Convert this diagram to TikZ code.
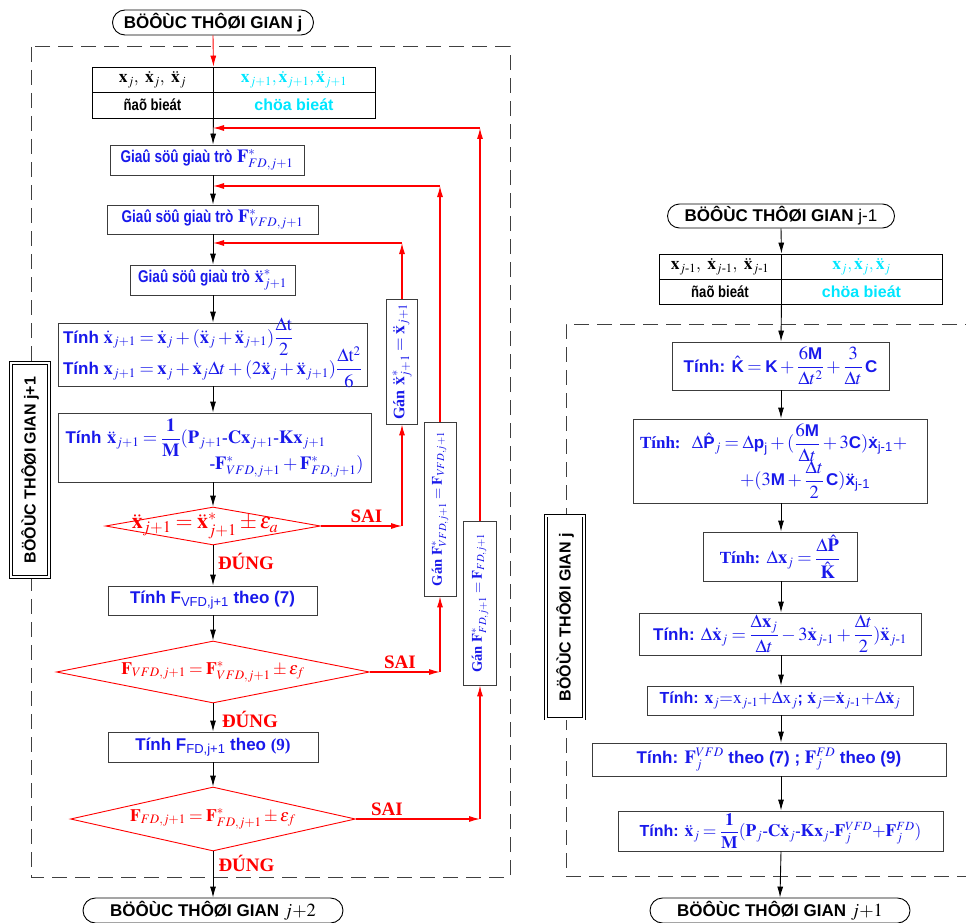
\documentclass[tikz,border=0pt]{standalone}
\usepackage{amsmath}
\usepackage{mathptmx}
\usepackage[no-math]{fontspec}
\setmainfont{Liberation Sans}
\newfontfamily\serifb{Liberation Serif}
\usetikzlibrary{arrows.meta,shapes.geometric,shapes.misc}
\definecolor{vblue}{RGB}{25,25,235}
\definecolor{vcyan}{RGB}{0,230,255}
\definecolor{vred}{RGB}{255,0,0}
\definecolor{bgray}{RGB}{60,60,60}
\DeclareMathSizes{17}{18.5}{13}{10}
\DeclareMathSizes{16}{17.5}{12.5}{9}
\newcommand{\fsz}[1]{\fontsize{#1}{#1}\selectfont\medmuskip=2.5mu plus 1mu\thickmuskip=3.5mu plus 1mu}
\newcommand{\hb}{\text{\serifb -}}
\newcommand{\hm}{\text{\serifb\mdseries -}}
\newcommand{\cond}[2][0.8]{\scalebox{#1}[1]{#2}}
\begin{document}
\begin{tikzpicture}[x=1pt,y=-1pt,>={Latex[length=11pt,width=6pt]},
 box/.style={draw=bgray, line width=0.9pt, fill=white, inner sep=0pt, text=vblue, font=\bfseries\fsz{17}, align=center},
 term/.style={draw=black, line width=0.9pt, rounded rectangle, inner sep=0pt, font=\bfseries\fsz{17}},
 cell/.style={draw=black, line width=0.9pt, inner sep=0pt, font=\bfseries\fsz{16}},
 dia/.style={draw=vred, line width=0.9pt, diamond, inner sep=0pt},
 dtext/.style={text=vred, font=\fsz{17.5}},
 lab/.style={text=vred, font=\serifb\bfseries\fsz{19}},
 side/.style={draw=black, double=white, double distance=2pt, line width=0.8pt, fill=white, rotate=90, font=\bfseries\fsz{16}, inner sep=0pt},
 gan/.style={box, rotate=90, font=\bfseries\fsz{14.5}},
 flow/.style={->, draw=black, line width=0.9pt},
 loop/.style={->, draw=vred, line width=1.1pt},
 frame/.style={draw=black!75, line width=1pt, dash pattern=on 15pt off 8pt}]
\useasboundingbox (0,0) rectangle (966,923);
\coordinate (axL) at (213,0);
\coordinate (axR) at (781,0);
% frames
\draw[frame] (31,47) rectangle (510,877);
\draw[frame] (980,324) -- (566,324) -- (566,876) -- (980,876);
\node[side, minimum width=214, minimum height=38] (SL) at (30,470) {BÖÔÙC THÔØI GIAN j+1};
\node[side, minimum width=203, minimum height=38] (SR) at (565,617) {BÖÔÙC THÔØI GIAN j};
% ---------- left column ----------
\node[term, minimum width=201, minimum height=25] (LT) at (213,22.5) {BÖÔÙC THÔØI GIAN j};
\node[cell, minimum width=121, minimum height=25] (LA1) at (152.5,79.5) {$\mathbf{x}_{j},\ \dot{\mathbf{x}}_{j},\ \ddot{\mathbf{x}}_{j}$};
\node[cell, text=vcyan, minimum width=162, minimum height=25] (LB1) at (294,79.5) {$\mathbf{x}_{j+1},\dot{\mathbf{x}}_{j+1},\ddot{\mathbf{x}}_{j+1}$};
\node[cell, minimum width=121, minimum height=26] (LA2) at (152.5,105) {\cond[0.82]{ñaõ bieát}};
\node[cell, text=vcyan, minimum width=162, minimum height=26] (LB2) at (294,105) {chöa bieát};
\node[box, minimum width=194, minimum height=30] (G1) at (207,160) {\cond{Giaû söû giaù trò} $\mathbf{F}^{*}_{FD,j+1}$};
\node[box, minimum width=211, minimum height=29] (G2) at (212.5,219.5) {\cond{Giaû söû giaù trò} $\mathbf{F}^{*}_{VFD,j+1}$};
\node[box, minimum width=165, minimum height=30] (G3) at (212.5,280) {\cond{Giaû söû giaù trò} $\ddot{\mathbf{x}}^{*}_{j+1}$};
\node[box, align=left, minimum width=309, minimum height=63] (T1) at (212.5,354.5) {Tính $\dot{\mathbf{x}}_{j+1} = \dot{\mathbf{x}}_{j} + (\ddot{\mathbf{x}}_{j} + \ddot{\mathbf{x}}_{j+1})\smash{\dfrac{\Delta\mathrm{t}}{2}}$\\[11pt]
Tính $\mathbf{x}_{j+1} = \mathbf{x}_{j} + \dot{\mathbf{x}}_{j}\Delta t + (2\ddot{\mathbf{x}}_{j} + \ddot{\mathbf{x}}_{j+1})\smash{\dfrac{\Delta\mathrm{t}^{2}}{6}}$};
\node[box, align=left, text width=298, minimum width=313, minimum height=69] (T2) at (214.5,447.5) {Tính $\ddot{\mathbf{x}}_{j+1} = \dfrac{\mathbf{1}}{\mathbf{M}}(\mathbf{P}_{j+1}\hb\mathbf{Cx}_{j+1}\hb\mathbf{Kx}_{j+1}$\\[-2pt]
\mbox{}\hfill$\hb\mathbf{F}^{*}_{VFD,j+1} + \mathbf{F}^{*}_{FD,j+1})$};
\node[dia, minimum width=215, minimum height=38, label={[dtext, font=\fsz{22}, xshift=-8pt]center:$\ddot{\mathbf{x}}_{j+1} = \ddot{\mathbf{x}}^{*}_{j+1} \pm \varepsilon_{a}$}] (D1) at (213,526) {};
\node[box, minimum width=209, minimum height=29] (F1) at (212.5,600.5) {Tính F\textsubscript{\mdseries VFD,j+1} theo (7)};
\node[dia, minimum width=313, minimum height=62, label={[dtext]center:$\mathbf{F}_{VFD,j+1} = \mathbf{F}^{*}_{VFD,j+1} \pm \varepsilon_{f}$}] (D2) at (213,672) {};
\node[box, minimum width=210, minimum height=30] (F2) at (213,747) {Tính F\textsubscript{\mdseries FD,j+1} theo {\serifb (9)}};
\node[dia, minimum width=285, minimum height=64, label={[dtext]center:$\mathbf{F}_{FD,j+1} = \mathbf{F}^{*}_{FD,j+1} \pm \varepsilon_{f}$}] (D3) at (213,819) {};
\node[term, minimum width=260, minimum height=25] (LB) at (213,910.5) {BÖÔÙC THÔØI GIAN $j{+}2$};
\node[gan, font=\bfseries\fsz{16}, minimum width=125, minimum height=31] (GanA) at (402,361.5) {{\serifb Gán} $\ddot{\mathbf{x}}^{*}_{j+1} = \ddot{\mathbf{x}}_{j+1}$};
\node[gan, minimum width=174, minimum height=32] (GanB) at (440,509) {{\serifb Gán} $\mathbf{F}^{*}_{VFD,j+1} = \mathbf{F}_{VFD,j+1}$};
\node[gan, minimum width=164, minimum height=33] (GanC) at (480,603) {{\serifb Gán} $\mathbf{F}^{*}_{FD,j+1} = \mathbf{F}_{FD,j+1}$};
\node[lab] (sai1) at (366.5,516) {SAI};
\node[lab] (sai2) at (400,662) {SAI};
\node[lab] (sai3) at (387,809) {SAI};
\node[lab] (dung1) at (246,561) {ĐÚNG};
\node[lab] (dung2) at (250,719) {ĐÚNG};
\node[lab] (dung3) at (246.5,863) {ĐÚNG};
% left flow
\draw[->, draw=vred, line width=0.9pt] (LT.south) -- (LA1.north east);
\draw[flow] (LA2.south east) -- (axL |- G1.north);
\draw[flow] (axL |- G1.south) -- (axL |- G2.north);
\draw[flow] (axL |- G2.south) -- (axL |- G3.north);
\draw[flow] (axL |- G3.south) -- (axL |- T1.north);
\draw[flow] (axL |- T1.south) -- (axL |- T2.north);
\draw[flow] (axL |- T2.south) -- (D1.north);
\draw[flow] (D1.south) -- (axL |- F1.north);
\draw[flow] (axL |- F1.south) -- (D2.north);
\draw[flow] (D2.south) -- (axL |- F2.north);
\draw[flow] (axL |- F2.south) -- (D3.north);
\draw[flow] (D3.south) -- (LB.north);
% loops
\coordinate (a1) at (GanA.west |- D1.east);
\coordinate (a2) at (402,243);
\coordinate (j3) at (213,243);
\draw[loop] (D1.east) -- (a1);
\draw[loop] (a1) -- (GanA.west);
\draw[loop] (GanA.east) -- (a2);
\draw[loop] (a2) -- (j3);
\coordinate (b1) at (GanB.west |- D2.east);
\coordinate (b2) at (440,186);
\coordinate (j2) at (213,186);
\draw[loop] (D2.east) -- (b1);
\draw[loop] (b1) -- (GanB.west);
\draw[loop] (GanB.east) -- (b2);
\draw[loop] (b2) -- (j2);
\coordinate (c1) at (GanC.west |- D3.east);
\coordinate (c2) at (480,128);
\coordinate (j1) at (213,128);
\draw[loop] (D3.east) -- (c1);
\draw[loop] (c1) -- (GanC.west);
\draw[loop] (GanC.east) -- (c2);
\draw[loop] (c2) -- (j1);
% ---------- right column ----------
\node[term, minimum width=227, minimum height=24] (RT) at (781,216) {BÖÔÙC THÔØI GIAN {\mdseries j-1}};
\node[cell, minimum width=122, minimum height=25] (RA1) at (720,266.5) {$\mathbf{x}_{j\hm1},\ \dot{\mathbf{x}}_{j\hm1},\ \ddot{\mathbf{x}}_{j\hm1}$};
\node[cell, text=vcyan, minimum width=161, minimum height=25] (RB1) at (861.5,266.5) {$\mathbf{x}_{j},\dot{\mathbf{x}}_{j},\ddot{\mathbf{x}}_{j}$};
\node[cell, minimum width=122, minimum height=25] (RA2) at (720,291.5) {\cond[0.82]{ñaõ bieát}};
\node[cell, text=vcyan, minimum width=161, minimum height=25] (RB2) at (861.5,291.5) {chöa bieát};
\node[box, minimum width=217, minimum height=48] (K1) at (780.5,366) {Tính: $\hat{\text{K}} = \text{K} + \dfrac{6\text{M}}{\Delta t^{2}} + \dfrac{3}{\Delta t}\,\text{C}$};
\node[box, align=left, text width=280, minimum width=294, minimum height=84] (K2) at (780,461) {{\serifb Tính:}\ \ $\Delta\hat{\text{P}}_{j} = \Delta\text{p}_{\text{\mdseries j}} + (\dfrac{6\text{M}}{\Delta t} + 3\text{C})\dot{\text{x}}_{\text{\mdseries j-1}} +$\\[-2pt]
\hspace*{100pt}$+(3\text{M} + \dfrac{\Delta t}{2}\,\text{C})\ddot{\text{x}}_{\text{\mdseries j-1}}$};
\node[box, minimum width=154, minimum height=49] (K3) at (780,556.5) {{\serifb Tính:} $\Delta\mathbf{x}_{j} = \dfrac{\Delta\hat{\mathbf{P}}}{\hat{\mathbf{K}}}$};
\node[box, minimum width=282, minimum height=42] (K4) at (780,634) {Tính: $\Delta\dot{\mathbf{x}}_{j} = \dfrac{\Delta\mathbf{x}_{j}}{\Delta t} - 3\dot{\mathbf{x}}_{j\hm1} + \dfrac{\Delta t}{2})\ddot{\mathbf{x}}_{j\hm1}$};
\node[box, font=\bfseries\fsz{16}, minimum width=266, minimum height=29] (K5) at (780,700.5) {Tính: $\mathbf{x}_{j} {=} \mathrm{x}_{j\hm1} {+} \Delta\mathrm{x}_{j}$; $\dot{\mathbf{x}}_{j} {=} \dot{\mathbf{x}}_{j\hm1} {+} \Delta\dot{\mathbf{x}}_{j}$};
\node[box, minimum width=354, minimum height=33] (K6) at (769,759.5) {Tính: $\mathbf{F}_{j}^{VFD}$ theo (7) ; $\mathbf{F}_{j}^{FD}$ theo (9)};
\node[box, font=\bfseries\fsz{16}, minimum width=325, minimum height=40] (K7) at (780.5,831) {Tính: $\ddot{\mathbf{x}}_{j} = \dfrac{\mathbf{1}}{\mathbf{M}}(\mathbf{P}_{j}\hb\mathbf{C}\dot{\mathbf{x}}_{j}\hb\mathbf{Kx}_{j}\hb\mathbf{F}_{j}^{VFD} {+} \mathbf{F}_{j}^{FD})$};
\node[term, minimum width=260, minimum height=25] (RBt) at (780,910.5) {BÖÔÙC THÔØI GIAN $j{+}1$};
% right flow
\draw[flow] (RT.south) -- (RA1.north east);
\draw[flow] (RA2.south east) -- (axR |- K1.north);
\draw[flow] (axR |- K1.south) -- (axR |- K2.north);
\draw[flow] (axR |- K2.south) -- (axR |- K3.north);
\draw[flow] (axR |- K3.south) -- (axR |- K4.north);
\draw[flow] (axR |- K4.south) -- (axR |- K5.north);
\draw[flow] (axR |- K5.south) -- (axR |- K6.north);
\draw[flow] (axR |- K6.south) -- (axR |- K7.north);
\draw[flow] (axR |- K7.south) -- (RBt.north);
\end{tikzpicture}
\end{document}
